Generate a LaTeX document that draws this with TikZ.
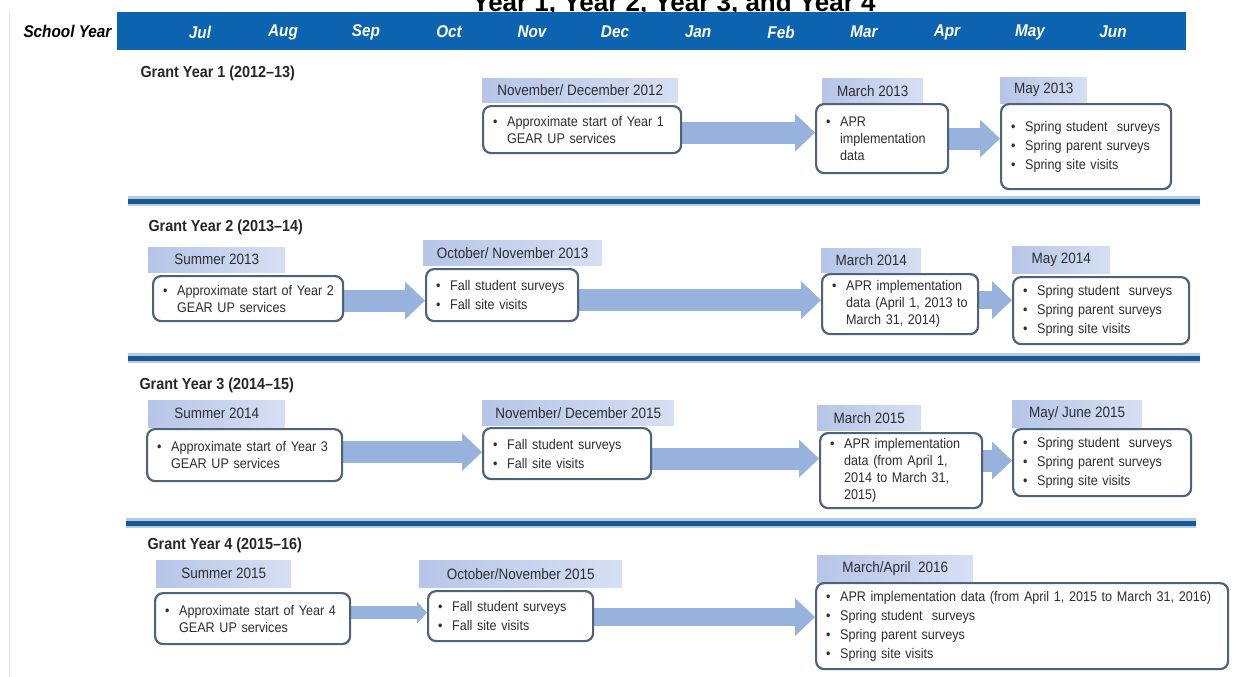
\documentclass[tikz,border=0pt]{standalone}
\usepackage{fontspec}
\setmainfont[FakeStretch=0.9]{Liberation Sans}
\newfontfamily\titlefont{Liberation Sans}
\usetikzlibrary{arrows.meta,backgrounds}
\definecolor{hdrblue}{RGB}{12,100,176}
\definecolor{rule}{RGB}{28,88,142}
\definecolor{rulelite}{RGB}{175,205,230}
\definecolor{tabA}{RGB}{182,197,232}
\definecolor{tabB}{RGB}{214,223,243}
\definecolor{edge}{RGB}{78,98,124}
\definecolor{flowblue}{RGB}{152,178,222}
\definecolor{bodytext}{RGB}{45,45,50}
\newcommand{\itm}[1]{\mbox{\makebox[14pt][l]{\textbullet}#1}}
\newcommand{\cnt}[1]{\mbox{\hspace*{14pt}#1}}

\begin{document}
\begin{tikzpicture}[x=1pt,y=-1pt,
        month/.style={text=white,font=\fontsize{17}{17}\selectfont\bfseries\itshape},
        grant/.style={anchor=west,text=black!85,font=\fontsize{16}{16}\selectfont\bfseries},
        tab/.style={anchor=north west,left color=tabA,right color=tabB,text=bodytext,inner sep=0pt,font=\fontsize{15}{15}\selectfont},
        evbox/.style 2 args={anchor=north west,draw=edge,line width=2.2pt,rounded corners=8pt,fill=white,align=left,inner xsep=10pt,inner ysep=2pt,text width=#1pt,minimum height=#2pt,text=bodytext,font=\fontsize{14}{17}\selectfont},
        flow/.style={draw=flowblue,line width=22pt,-{Triangle[width=38pt,length=20pt,line width=0pt]}},
        thinflow/.style={draw=flowblue,line width=13pt,-{Triangle[width=22pt,length=10pt,line width=0pt]}}]
        \useasboundingbox (0,0) rectangle (1248,677);

        \draw[black!12,line width=1pt] (9,14) -- (9,677);
        \node[anchor=base,font=\titlefont\fontsize{26}{26}\selectfont\bfseries] (ttl) at (674,12) {Year 1, Year 2, Year 3, and Year 4};
        \fill[hdrblue] (117,12) rectangle (1186,50);
        \node[anchor=west,font=\fontsize{17}{17}\selectfont\bfseries\itshape] (sy) at (20,31) {School Year};
        \foreach \m [count=\i from 0] in {Jul,Aug,Sep,Oct,Nov,Dec,Jan,Feb,Mar,Apr,May,Jun}
                \node[month] (m\i) at ({200+83*\i},32) {\m};

        \foreach \y/\a/\b in {201/128/1200,358/128/1200,523/126/1196} {
                \draw[rulelite,line width=10pt] (\a,\y) -- (\b,\y);
                \draw[rule,line width=5pt] (\a,\y) -- (\b,\y);
        }

        \node[grant] (g1) at (137,73) {Grant Year 1 (2012--13)};
        \node[tab,minimum width=196pt,minimum height=24pt] (t11) at (482,78) {November/ December 2012};
        \node[evbox={178}{47}] (b11) at (482,105) {\itm{Approximate start of Year 1}\\\cnt{GEAR UP services}};
        \node[tab,minimum width=101pt,minimum height=25pt] (t12) at (822,78) {March 2013};
        \node[evbox={112}{69}] (b12) at (815,103) {\itm{APR}\\\cnt{implementation}\\\cnt{data}};
        \node[tab,minimum width=87pt,minimum height=26pt] (t13) at (1000,77) {May 2013};
        \node[evbox={150}{85}] (b13) at (1000,103) {\itm{Spring student~ surveys}\\[2pt]\itm{Spring parent surveys}\\[2pt]\itm{Spring site visits}};

        \node[grant] (g2) at (145,227) {Grant Year 2 (2013--14)};
        \node[tab,minimum width=137pt,minimum height=25pt] (t21) at (148,247) {Summer 2013};
        \node[evbox={170}{45}] (b21) at (152,275) {\itm{Approximate start of Year 2}\\\cnt{GEAR UP services}};
        \node[tab,minimum width=179pt,minimum height=25pt] (t22) at (423,240) {October/ November 2013};
        \node[evbox={132}{52}] (b22) at (425,268) {\itm{Fall student surveys}\\[2pt]\itm{Fall site visits}};
        \node[tab,minimum width=100pt,minimum height=24pt] (t23) at (821,248) {March 2014};
        \node[evbox={136}{60}] (b23) at (821,273) {\itm{APR implementation}\\\cnt{data (April 1, 2013 to}\\\cnt{March 31, 2014)}};
        \node[tab,minimum width=98pt,minimum height=27pt] (t24) at (1012,246) {May 2014};
        \node[evbox={156}{67}] (b24) at (1012,276) {\itm{Spring student~ surveys}\\[2pt]\itm{Spring parent surveys}\\[2pt]\itm{Spring site visits}};

        \node[grant] (g3) at (136,385) {Grant Year 3 (2014--15)};
        \node[tab,minimum width=137pt,minimum height=27pt] (t31) at (148,400) {Summer 2014};
        \node[evbox={175}{52}] (b31) at (146,428) {\itm{Approximate start of Year 3}\\\cnt{GEAR UP services}};
        \node[tab,minimum width=192pt,minimum height=25pt] (t32) at (482,400) {November/ December 2015};
        \node[evbox={148}{51}] (b32) at (482,427) {\itm{Fall student surveys}\\[2pt]\itm{Fall site visits}};
        \node[tab,minimum width=104pt,minimum height=25pt] (t33) at (817,405) {March 2015};
        \node[evbox={142}{75}] (b33) at (819,432) {\itm{APR implementation}\\\cnt{data (from April 1,}\\\cnt{2014 to March 31,}\\\cnt{2015)}};
        \node[tab,minimum width=130pt,minimum height=27pt] (t34) at (1012,400) {May/ June 2015};
        \node[evbox={158}{67}] (b34) at (1012,428) {\itm{Spring student~ surveys}\\[2pt]\itm{Spring parent surveys}\\[2pt]\itm{Spring site visits}};

        \node[grant] (g4) at (144,545) {Grant Year 4 (2015--16)};
        \node[tab,minimum width=135pt,minimum height=27pt] (t41) at (156,560) {Summer 2015};
        \node[evbox={175}{51}] (b41) at (154,592) {\itm{Approximate start of Year 4}\\\cnt{GEAR UP services}};
        \node[tab,minimum width=203pt,minimum height=27pt] (t42) at (419,560) {October/November 2015};
        \node[evbox={145}{50}] (b42) at (427,590) {\itm{Fall student surveys}\\[2pt]\itm{Fall site visits}};
        \node[tab,minimum width=156pt,minimum height=27pt] (t43) at (817,555) {March/April~ 2016};
        \node[evbox={392}{86}] (b43) at (815,582) {\itm{APR implementation data (from April 1, 2015 to March 31, 2016)}\\[2pt]\itm{Spring student~ surveys}\\[2pt]\itm{Spring parent surveys}\\[2pt]\itm{Spring site visits}};

        \coordinate (s11) at ([yshift=-3pt]b11.east);
        \coordinate (s12) at (b12.east);
        \coordinate (s21) at ([yshift=-2pt]b21.east);
        \coordinate (s22) at ([yshift=-5pt]b22.east);
        \coordinate (s23) at ([yshift=4pt]b23.east);
        \coordinate (s31) at ([yshift=3pt]b31.east);
        \coordinate (s32) at ([yshift=-5pt]b32.east);
        \coordinate (s33) at ([yshift=10pt]b33.east);
        \coordinate (s41) at ([yshift=6pt]b41.east);
        \coordinate (s42) at ([yshift=-1pt]b42.east);
        \begin{pgfonlayer}{background}
                \draw[flow] (s11) -- (s11 -| b12.west);
                \draw[flow] (s12) -- (s12 -| b13.west);
                \draw[flow] (s21) -- (s21 -| b22.west);
                \draw[flow] (s22) -- (s22 -| b23.west);
                \draw[flow,line width=18pt] (s23) -- (s23 -| b24.west);
                \draw[flow] (s31) -- (s31 -| b32.west);
                \draw[flow] (s32) -- (s32 -| b33.west);
                \draw[flow] (s33) -- (s33 -| b34.west);
                \draw[thinflow] (s41) -- (s41 -| b42.west);
                \draw[flow,line width=18pt] (s42) -- (s42 -| b43.west);
        \end{pgfonlayer}
\end{tikzpicture}
\end{document}
